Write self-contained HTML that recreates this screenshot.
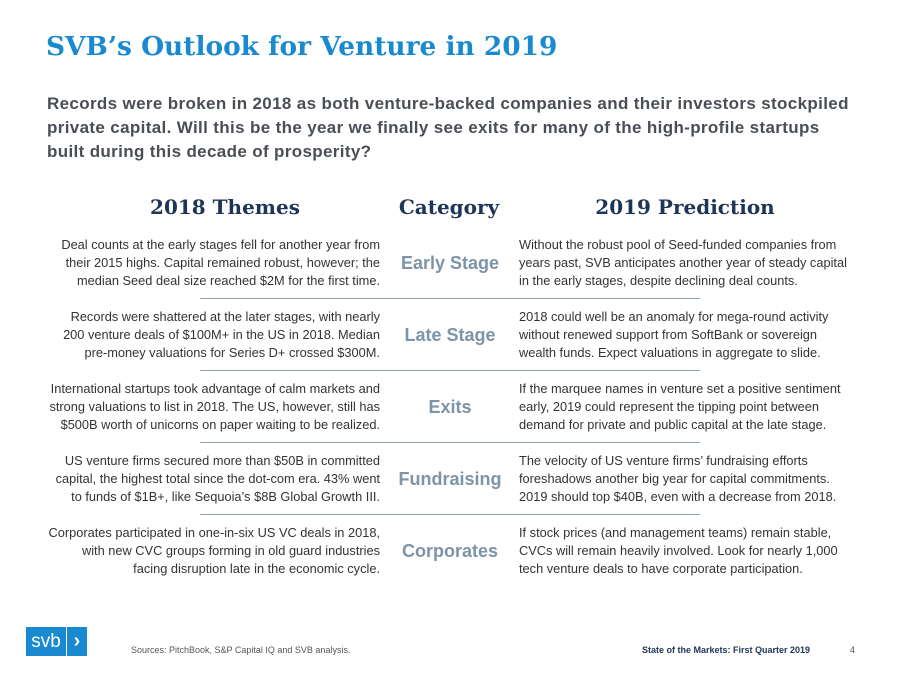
<!DOCTYPE html>
<html><head><meta charset="utf-8"><style>
body{margin:0;width:900px;height:675px;background:#fff;position:relative;overflow:hidden;font-family:"Liberation Sans",sans-serif}
.a{position:absolute}
#title{left:46px;top:31px;font:bold 26.4px "DejaVu Serif","Liberation Serif",serif;color:#1a8ad0;white-space:nowrap}
#sub{left:47px;top:92px;width:840px;font-weight:bold;font-size:17px;letter-spacing:0.35px;line-height:24px;color:#4a4f55;white-space:nowrap}
.hd{top:195px;font:bold 20px "DejaVu Serif","Liberation Serif",serif;color:#1d3557;text-align:center;white-space:nowrap}
.l{left:0px;width:380px;text-align:right;font-size:12.8px;line-height:18px;color:#333;white-space:nowrap}
.r{left:519px;width:380px;font-size:12.8px;line-height:18px;color:#333;white-space:nowrap}
.c{left:380px;width:140px;text-align:center;font-weight:bold;font-size:18px;color:#7d93a8}
.sep{left:200px;width:500px;height:1px;background:#8da0b0}
</style></head><body>
<div class="a" id="title">SVB’s Outlook for Venture in 2019</div>
<div class="a" id="sub">Records were broken in 2018 as both venture-backed companies and their investors stockpiled<br>private capital. Will this be the year we finally see exits for many of the high-profile startups<br>built during this decade of prosperity?</div>
<div class="a hd" style="left:110px;width:230px">2018 Themes</div>
<div class="a hd" style="left:380px;width:138px">Category</div>
<div class="a hd" style="left:560px;width:250px">2019 Prediction</div>

<div class="a l" style="top:236px">Deal counts at the early stages fell for another year from<br>their 2015 highs. Capital remained robust, however; the<br>median Seed deal size reached $2M for the first time.</div>
<div class="a c" style="top:253px">Early Stage</div>
<div class="a r" style="top:236px">Without the robust pool of Seed-funded companies from<br>years past, SVB anticipates another year of steady capital<br>in the early stages, despite declining deal counts.</div>
<div class="a sep" style="top:298px"></div>

<div class="a l" style="top:308px">Records were shattered at the later stages, with nearly<br>200 venture deals of $100M+ in the US in 2018. Median<br>pre-money valuations for Series D+ crossed $300M.</div>
<div class="a c" style="top:325px">Late Stage</div>
<div class="a r" style="top:308px">2018 could well be an anomaly for mega-round activity<br>without renewed support from SoftBank or sovereign<br>wealth funds. Expect valuations in aggregate to slide.</div>
<div class="a sep" style="top:370px"></div>

<div class="a l" style="top:380px">International startups took advantage of calm markets and<br>strong valuations to list in 2018. The US, however, still has<br>$500B worth of unicorns on paper waiting to be realized.</div>
<div class="a c" style="top:397px">Exits</div>
<div class="a r" style="top:380px">If the marquee names in venture set a positive sentiment<br>early, 2019 could represent the tipping point between<br>demand for private and public capital at the late stage.</div>
<div class="a sep" style="top:442px"></div>

<div class="a l" style="top:452px">US venture firms secured more than $50B in committed<br>capital, the highest total since the dot-com era. 43% went<br>to funds of $1B+, like Sequoia’s $8B Global Growth III.</div>
<div class="a c" style="top:469px">Fundraising</div>
<div class="a r" style="top:452px">The velocity of US venture firms’ fundraising efforts<br>foreshadows another big year for capital commitments.<br>2019 should top $40B, even with a decrease from 2018.</div>
<div class="a sep" style="top:514px"></div>

<div class="a l" style="top:524px">Corporates participated in one-in-six US VC deals in 2018,<br>with new CVC groups forming in old guard industries<br>facing disruption late in the economic cycle.</div>
<div class="a c" style="top:541px">Corporates</div>
<div class="a r" style="top:524px">If stock prices (and management teams) remain stable,<br>CVCs will remain heavily involved. Look for nearly 1,000<br>tech venture deals to have corporate participation.</div>

<div class="a" style="left:26px;top:627px;width:40px;height:29px;background:#1a8ad0;color:#fff;font-size:19px;line-height:29px;text-align:center">svb</div>
<div class="a" style="left:67px;top:627px;width:20px;height:29px;background:#1a8ad0;color:#fff;font-weight:bold;font-size:20px;line-height:28px;text-align:center">›</div>
<div class="a" style="left:131px;top:645px;font-size:9px;color:#555">Sources: PitchBook, S&amp;P Capital IQ and SVB analysis.</div>
<div class="a" style="left:642px;top:645px;font-size:9px;font-weight:bold;color:#1d3557">State of the Markets: First Quarter 2019</div>
<div class="a" style="left:850px;top:645px;font-size:9px;color:#555">4</div>
</body></html>
